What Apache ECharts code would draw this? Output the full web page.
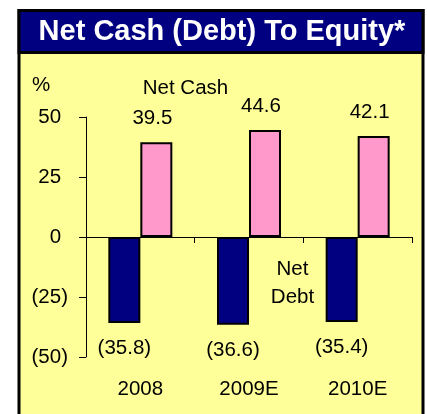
<!DOCTYPE html>
<html>
<head>
<meta charset="utf-8">
<script src="https://cdn.jsdelivr.net/npm/echarts@6/dist/echarts.min.js"></script>
<style>html,body{margin:0;padding:0;background:#fff;}#c{width:427px;height:414px;}</style>
</head>
<body>
<div id="c"></div>
<script>
const categories = ['2008', '2009E', '2010E'];
const netDebt = [-35.8, -36.6, -35.4];
const netCash = [39.5, 44.6, 42.1];
const yMin = -50, yMax = 50, yStep = 25;
const titleText = 'Net Cash (Debt) To Equity*';
const unitText = '%';
const cashNote = 'Net Cash';
const debtNote = 'Net\nDebt';

const FONT = "'Liberation Sans', Arial, sans-serif";
const FS = 20.5;
const fmtNum = v => v < 0 ? '(' + (-v).toFixed(1) + ')' : v.toFixed(1);

const chart = echarts.init(document.getElementById('c'), null, {renderer: 'canvas'});
chart.setOption({
  backgroundColor: '#ffffff',
  animation: false,
  textStyle: {fontFamily: FONT},
  graphic: [
    {type: 'rect', z: -10, shape: {x: 19, y: 10.5, width: 404, height: 420}, style: {fill: '#FFFF99', stroke: '#000', lineWidth: 3}},
    {type: 'rect', z: -9, shape: {x: 19, y: 10.5, width: 404, height: 42}, style: {fill: '#000080', stroke: '#000', lineWidth: 3}},
    {type: 'text', z: 10, x: 222, y: 32, style: {text: titleText, fill: '#fff', font: "bold 29px " + FONT, textAlign: 'center', textVerticalAlign: 'middle'}},
    {type: 'text', z: 10, x: 41, y: 85, style: {text: unitText, fill: '#000', font: FS + "px " + FONT, textAlign: 'center', textVerticalAlign: 'middle'}},
    {type: 'text', z: 10, x: 185.5, y: 88, style: {text: cashNote, fill: '#000', font: FS + "px " + FONT, textAlign: 'center', textVerticalAlign: 'middle'}},
    {type: 'text', z: 10, x: 292.5, y: 283, style: {text: debtNote, fill: '#000', font: FS + "px " + FONT, lineHeight: 28, textAlign: 'center', textVerticalAlign: 'middle'}}
  ],
  grid: {left: 86, right: 15, top: 117, bottom: 57, containLabel: false},
  xAxis: [
    {type: 'category', data: categories, position: 'bottom',
     axisLine: {show: true, onZero: true, lineStyle: {color: '#000', width: 1}},
     axisTick: {show: true, length: 6, lineStyle: {color: '#000'}},
     axisLabel: {show: false}, splitLine: {show: false}},
    {type: 'category', data: categories, position: 'bottom',
     axisLine: {show: false, onZero: false}, axisTick: {show: false},
     axisLabel: {show: true, margin: 22, color: '#000', fontSize: FS, fontFamily: FONT},
     splitLine: {show: false}}
  ],
  yAxis: {
    type: 'value', min: yMin, max: yMax, interval: yStep,
    axisLine: {show: true, lineStyle: {color: '#000', width: 1}},
    axisTick: {show: true, length: 7, lineStyle: {color: '#000'}},
    splitLine: {show: false},
    axisLabel: {
      margin: 18, color: '#000', fontSize: FS, fontFamily: FONT,
      formatter: v => v < 0 ? '{n|(' + (-v) + ')}' : '{n|' + v + '}{h|)}',
      rich: {n: {fontSize: FS, color: '#000', fontFamily: FONT}, h: {fontSize: FS, color: 'rgba(0,0,0,0)', fontFamily: FONT}}
    }
  },
  series: [
    {type: 'bar', name: 'Net Debt', data: netDebt, barWidth: 32, barGap: '0%', xAxisIndex: 0,
     itemStyle: {color: '#000080', borderColor: '#000', borderWidth: 2},
     label: {show: true, position: 'bottom', distance: 15, color: '#000', fontSize: FS, fontFamily: FONT,
             formatter: p => fmtNum(p.value)}},
    {type: 'bar', name: 'Net Cash', data: netCash, barWidth: 32, barGap: '0%', xAxisIndex: 0,
     itemStyle: {color: '#FF99CC', borderColor: '#000', borderWidth: 2},
     label: {show: true, position: 'top', distance: 13, offset: [-4, 0], color: '#000', fontSize: FS, fontFamily: FONT,
             formatter: p => fmtNum(p.value)}}
  ]
});
</script>
</body>
</html>
